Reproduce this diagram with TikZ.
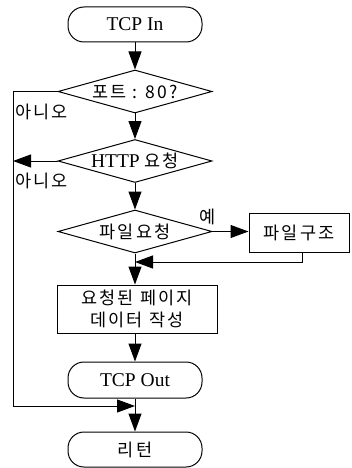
\documentclass[tikz,border=0pt]{standalone}
\usepackage{fontspec}
\setmainfont{Liberation Serif}
\newfontfamily\kr[LetterSpace=12]{Noto Sans CJK KR}
\usetikzlibrary{shapes.geometric,arrows.meta,calc}
\begin{document}
\begin{tikzpicture}[x=1pt,y=-1pt,
  line width=1pt,
  >={Triangle[length=18pt,width=13pt]},
  every node/.append style={font=\fontsize{19.5pt}{22pt}\selectfont},
  term/.style={draw, rectangle, rounded corners=16pt, minimum width=134pt, minimum height=35pt, inner sep=0pt},
  dia/.style={draw, diamond, aspect=3.6, inner sep=0pt, minimum width=154pt, minimum height=43pt},
  box/.style={draw, rectangle, inner sep=0pt, align=center, font=\kr\fontsize{17.5pt}{22pt}\selectfont},
  lbl/.style={inner sep=0pt, font=\kr\fontsize{17.5pt}{20pt}\selectfont}
]
\useasboundingbox (0,0) rectangle (351,468);
\node[term] (tin) at (135,24.5) {TCP In};
\node[dia] (d1) at (135,91.5) {\makebox[0pt]{\kr\fontsize{17.5pt}{20pt}\selectfont 포트 : 80?}};
\node[dia] (d2) at (135,161) {\makebox[0pt]{HTTP {\kr\fontsize{17.5pt}{20pt}\selectfont 요청}}};
\node[dia] (d3) at (135,231.5) {\makebox[0pt]{\kr\fontsize{17.5pt}{20pt}\selectfont 파일요청}};
\node[box, minimum width=100pt, minimum height=39pt] (fs) at (299,232.5) {파일구조};
\node[box, minimum width=160pt, minimum height=48pt] (data) at (137,309) {요청된 페이지\\데이터 작성};
\node[term, minimum height=36pt] (tout) at (135,380) {TCP Out};
\node[term] (ret) at (135,449.5) {{\kr\fontsize{17.5pt}{20pt}\selectfont 리턴}};
\node[lbl, anchor=west] (n1) at (15,112) {아니오};
\node[lbl, anchor=west] (n2) at (15,181) {아니오};
\node[lbl] (yes) at (208,217) {예};
\coordinate (L) at (13,406);
\coordinate (R) at (302,262);
\draw[->] (tin) -- (d1);
\draw[->] (d1) -- (d2);
\draw[->] (d2) -- (d3);
\draw[->] (d3.east) -- (d3.east -| fs.west);
\draw[->] (d3.south) -- (d3.south |- data.north);
\draw[->] (data.south -| tout.north) -- (tout.north);
\draw[->] (tout) -- (ret);
\draw[->] (d1.west) -- (d1.west -| L) -- (L) -- (L -| ret.north);
\draw[->] (d2.west) -- (d2.west -| L);
\draw[->] (fs.south -| R) -- (R) -- (R -| d3.south);
\end{tikzpicture}
\end{document}
